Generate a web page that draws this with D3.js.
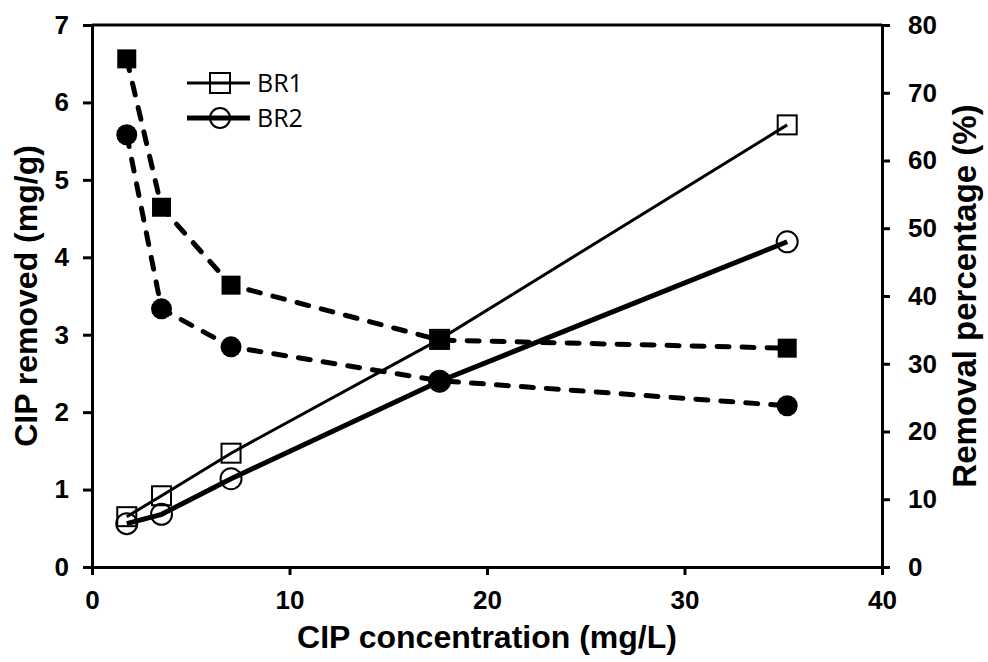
<!DOCTYPE html>
<html>
<head>
<meta charset="utf-8">
<script src="https://cdn.jsdelivr.net/npm/d3@7"></script>
<style>
  body { margin: 0; background: #fff; }
</style>
</head>
<body>
<svg id="chart" width="988" height="662"></svg>
<script>
// CIP initial concentrations (mg/L)
const concentrations = [1.76, 3.52, 7.04, 17.6, 35.2];
// CIP removed (mg/g), left axis
const br1Removed = [0.65, 0.92, 1.47, 2.94, 5.71];
const br2Removed = [0.56, 0.68, 1.14, 2.40, 4.20];
// removal percentage (%), right axis
const br1Percent = [75.0, 53.1, 41.6, 33.5, 32.3];
const br2Percent = [63.8, 38.1, 32.5, 27.5, 23.8];
const xTicks = [0, 10, 20, 30, 40];
const leftTicks = [0, 1, 2, 3, 4, 5, 6, 7];
const rightTicks = [0, 10, 20, 30, 40, 50, 60, 70, 80];
const legendLabels = ['BR1', 'BR2'];

const boldFont = '"Liberation Sans", Arial, sans-serif';

const svg = d3.select('#chart');
const margin = { top: 25, right: 106, bottom: 95, left: 92 };
const width = 988, height = 662;

const x = d3.scaleLinear().domain([0, 40]).range([margin.left, width - margin.right]);
const yL = d3.scaleLinear().domain([0, 7]).range([height - margin.bottom, margin.top]);
const yR = d3.scaleLinear().domain([0, 80]).range([height - margin.bottom, margin.top]);

// top frame line
svg.append('line')
  .attr('x1', x(0)).attr('x2', x(40))
  .attr('y1', yL(7)).attr('y2', yL(7))
  .attr('stroke', '#000').attr('stroke-width', 3);

function styleAxis(g) {
  g.attr('font-size', 26).attr('font-family', boldFont).attr('font-weight', 'bold');
  g.select('.domain').attr('stroke-width', 3);
  g.selectAll('.tick line').attr('stroke-width', 3);
}

const fmt = d3.format('d');

svg.append('g')
  .attr('transform', `translate(0,${yL(0)})`)
  .call(d3.axisBottom(x).tickValues(xTicks).tickFormat(fmt).tickSize(8).tickSizeOuter(0).tickPadding(16))
  .call(styleAxis);

svg.append('g')
  .attr('transform', `translate(${x(0)},0)`)
  .call(d3.axisLeft(yL).tickValues(leftTicks).tickFormat(fmt).tickSize(9).tickSizeOuter(0).tickPadding(14))
  .call(styleAxis);

svg.append('g')
  .attr('transform', `translate(${x(40)},0)`)
  .call(d3.axisRight(yR).tickValues(rightTicks).tickFormat(fmt).tickSize(8).tickSizeOuter(0).tickPadding(18))
  .call(styleAxis);

// axis titles
function title(sel) {
  return sel.attr('font-family', boldFont).attr('font-weight', 'bold')
    .attr('font-size', 32).attr('text-anchor', 'middle');
}

svg.append('text').call(title)
  .attr('x', (x(0) + x(40)) / 2).attr('y', 648)
  .text('CIP concentration (mg/L)');

svg.append('text').call(title)
  .attr('transform', `translate(37,${(yL(0) + yL(7)) / 2}) rotate(-90)`)
  .text('CIP removed (mg/g)');

svg.append('text').call(title)
  .attr('font-size', 33)
  .attr('transform', `translate(976,${(yL(0) + yL(7)) / 2}) rotate(-90)`)
  .text('Removal percentage (%)');

const pts = (vals, y) => concentrations.map((c, i) => [x(c), y(vals[i])]);
const line = d3.line();

// solid lines (CIP removed)
svg.append('path').attr('d', line(pts(br1Removed, yL)))
  .attr('fill', 'none').attr('stroke', '#000').attr('stroke-width', 3);
svg.append('path').attr('d', line(pts(br2Removed, yL)))
  .attr('fill', 'none').attr('stroke', '#000').attr('stroke-width', 5);

// dashed lines (removal percentage)
[br1Percent, br2Percent].forEach(vals => {
  svg.append('path').attr('d', line(pts(vals, yR)))
    .attr('fill', 'none').attr('stroke', '#000').attr('stroke-width', 5)
    .attr('stroke-linecap', 'round')
    .attr('stroke-dasharray', '12,13');
});

const sq = 19, rad = 10.5;

// open markers
svg.selectAll('.osq').data(pts(br1Removed, yL)).enter().append('rect')
  .attr('x', d => d[0] - sq / 2).attr('y', d => d[1] - sq / 2)
  .attr('width', sq).attr('height', sq)
  .attr('fill', 'none').attr('stroke', '#000').attr('stroke-width', 2);
svg.selectAll('.oci').data(pts(br2Removed, yL)).enter().append('circle')
  .attr('cx', d => d[0]).attr('cy', d => d[1]).attr('r', rad)
  .attr('fill', 'none').attr('stroke', '#000').attr('stroke-width', 2);

// filled markers
svg.selectAll('.fsq').data(pts(br1Percent, yR)).enter().append('rect')
  .attr('x', d => d[0] - sq / 2).attr('y', d => d[1] - sq / 2)
  .attr('width', sq).attr('height', sq).attr('fill', '#000');
svg.selectAll('.fci').data(pts(br2Percent, yR)).enter().append('circle')
  .attr('cx', d => d[0]).attr('cy', d => d[1]).attr('r', rad).attr('fill', '#000');

// legend
const leg = svg.append('g');
legendLabels.forEach((lab, i) => {
  const ly = 83 + i * 35;
  leg.append('line').attr('x1', 187).attr('x2', 250).attr('y1', ly).attr('y2', ly)
    .attr('stroke', '#000').attr('stroke-width', i === 0 ? 3 : 5);
  if (i === 0) {
    leg.append('rect').attr('x', 220 - 10).attr('y', ly - 10).attr('width', 20).attr('height', 20)
      .attr('fill', 'none').attr('stroke', '#000').attr('stroke-width', 2);
  } else {
    leg.append('circle').attr('cx', 220).attr('cy', ly).attr('r', 10)
      .attr('fill', 'none').attr('stroke', '#000').attr('stroke-width', 2);
  }
  leg.append('text').attr('x', 257).attr('y', ly + 9)
    .attr('font-family', '"Open Sans", sans-serif').attr('font-weight', 'normal')
    .attr('font-size', 25).text(lab);
});
</script>
</body>
</html>
